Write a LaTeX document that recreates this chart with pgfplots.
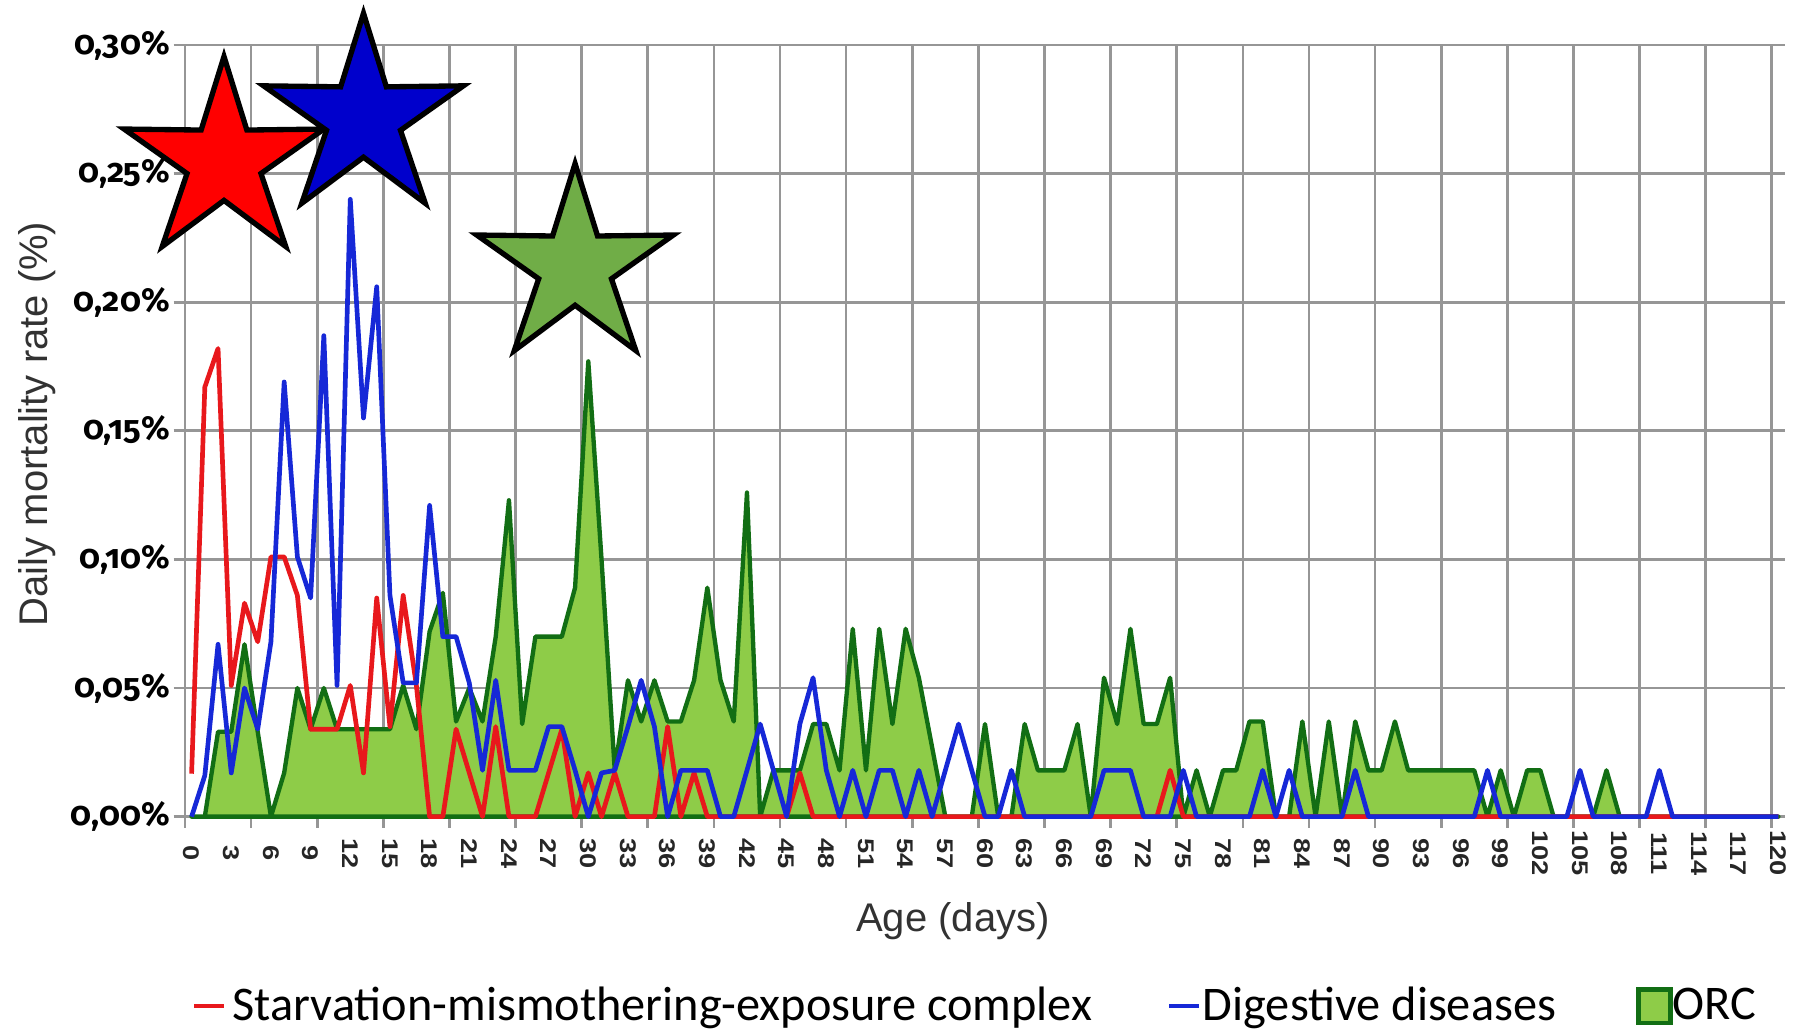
\documentclass[border=0pt]{standalone}
\usepackage{pgfplots}
\pgfplotsset{compat=1.18}
\usepackage{pgfplotstable}
\usepackage{fontspec}
\setmainfont{Liberation Sans}
\newfontfamily\tickfont[Numbers=OldStyle]{Fira Sans}
\newfontfamily\legfont{Carlito}
\newfontfamily\xtfont[FakeStretch=1.2]{Liberation Sans}
\usetikzlibrary{shapes.geometric}
\definecolor{cRed}{RGB}{232,24,28}
\definecolor{cBlue}{RGB}{22,40,215}
\definecolor{cLGreen}{RGB}{142,204,72}
\definecolor{cDGreen}{RGB}{18,110,20}
\definecolor{cGrid}{RGB}{150,150,150}
\definecolor{sRed}{RGB}{255,0,0}
\definecolor{sBlue}{RGB}{0,0,204}
\definecolor{sGreen}{RGB}{112,173,71}
\definecolor{cLab}{RGB}{50,50,50}

\pgfplotsset{
  lineleg/.style={legend image code/.code={\draw[##1] (0pt,0pt) -- (9pt,0pt);}},
  boxleg/.style={legend image code/.code={\draw[##1] (0pt,-5pt) rectangle (9.6pt,5pt);}},
}

\pgfplotstableread{
d R B G
0 0.0167 0 0
1 0.167 0.016 0
2 0.182 0.067 0.033
3 0.051 0.017 0.033
4 0.083 0.050 0.067
5 0.068 0.034 0.033
6 0.101 0.068 0
7 0.101 0.169 0.017
8 0.086 0.101 0.050
9 0.034 0.085 0.034
10 0.034 0.187 0.050
11 0.034 0.051 0.034
12 0.051 0.240 0.034
13 0.017 0.155 0.034
14 0.085 0.206 0.034
15 0.035 0.086 0.034
16 0.086 0.052 0.051
17 0.051 0.052 0.034
18 0 0.121 0.072
19 0 0.070 0.087
20 0.034 0.070 0.037
21 0.017 0.052 0.050
22 0 0.018 0.037
23 0.035 0.053 0.070
24 0 0.018 0.123
25 0 0.018 0.036
26 0 0.018 0.070
27 0.017 0.035 0.070
28 0.034 0.035 0.070
29 0 0.018 0.089
30 0.017 0 0.177
31 0 0.017 0.100
32 0.017 0.018 0.018
33 0 0.035 0.053
34 0 0.053 0.037
35 0 0.035 0.053
36 0.035 0 0.037
37 0 0.018 0.037
38 0.017 0.018 0.053
39 0 0.018 0.089
40 0 0 0.053
41 0 0 0.037
42 0 0.018 0.126
43 0 0.036 0
44 0 0.018 0.018
45 0 0 0.018
46 0.017 0.036 0.018
47 0 0.054 0.036
48 0 0.018 0.036
49 0 0 0.018
50 0 0.018 0.073
51 0 0 0.018
52 0 0.018 0.073
53 0 0.018 0.036
54 0 0 0.073
55 0 0.018 0.054
56 0 0 0.027
57 0 0.018 0
58 0 0.036 0
59 0 0.018 0
60 0 0 0.036
61 0 0 0
62 0 0.018 0
63 0 0 0.036
64 0 0 0.018
65 0 0 0.018
66 0 0 0.018
67 0 0 0.036
68 0 0 0
69 0 0.018 0.054
70 0 0.018 0.036
71 0 0.018 0.073
72 0 0 0.036
73 0 0 0.036
74 0.018 0 0.054
75 0 0.018 0
76 0 0 0.018
77 0 0 0
78 0 0 0.018
79 0 0 0.018
80 0 0 0.037
81 0 0.018 0.037
82 0 0 0
83 0 0.018 0
84 0 0 0.037
85 0 0 0
86 0 0 0.037
87 0 0 0
88 0 0.018 0.037
89 0 0 0.018
90 0 0 0.018
91 0 0 0.037
92 0 0 0.018
93 0 0 0.018
94 0 0 0.018
95 0 0 0.018
96 0 0 0.018
97 0 0 0.018
98 0 0.018 0
99 0 0 0.018
100 0 0 0
101 0 0 0.018
102 0 0 0.018
103 0 0 0
104 0 0 0
105 0 0.018 0
106 0 0 0
107 0 0 0.018
108 0 0 0
109 0 0 0
110 0 0 0
111 0 0.018 0
112 0 0 0
113 0 0 0
114 0 0 0
115 0 0 0
116 0 0 0
117 0 0 0
118 0 0 0
119 0 0 0
120 0 0 0
}\mort

\pgfplotstableread{
x y
2.95 0.2547
}\starR
\pgfplotstableread{
x y
13.5 0.2715
}\starB
\pgfplotstableread{
x y
29.5 0.2137
}\starG

\begin{document}
\begin{tikzpicture}
\useasboundingbox (-55.5pt,-64.3pt) rectangle (483pt,245pt);
\begin{axis}[
  scale only axis, width=480pt, height=231.5pt,
  xmin=0, xmax=121, ymin=0, ymax=0.30,
  clip=false,
  axis x line*=bottom, axis y line*=left,
  axis line style={cGrid, line width=0.8pt, -},
  xtick={0,5,...,120}, xticklabels={},
  extra x ticks={0.5,3.5,6.5,9.5,12.5,15.5,18.5,21.5,24.5,27.5,30.5,33.5,36.5,39.5,42.5,45.5,48.5,51.5,54.5,57.5,60.5,63.5,66.5,69.5,72.5,75.5,78.5,81.5,84.5,87.5,90.5,93.5,96.5,99.5,102.5,105.5,108.5,111.5,114.5,117.5,120.5},
  extra x tick labels={0,3,6,9,12,15,18,21,24,27,30,33,36,39,42,45,48,51,54,57,60,63,66,69,72,75,78,81,84,87,90,93,96,99,102,105,108,111,114,117,120},
  extra x tick style={grid=none, major tick length=0pt},
  xticklabel shift=11pt,
  xticklabel style={rotate=-90, anchor=center, font=\xtfont\bfseries\fontsize{6.8}{7}\selectfont, text=black!85, inner sep=0pt},
  ytick={0,0.05,0.1,0.15,0.2,0.25,0.3},
  yticklabels={{0,00\%},{0,05\%},{0,10\%},{0,15\%},{0,20\%},{0,25\%},{0,30\%}},
  yticklabel style={font=\tickfont\bfseries\fontsize{10}{12}\selectfont, text=black, inner sep=1pt},
  grid=major, major grid style={cGrid, line width=0.8pt},
  tick style={cGrid, line width=0.8pt}, tick align=outside, major tick length=3.4pt,
  xlabel={Age (days)},
  xlabel style={at={(axis description cs:0.48,-0.136)}, anchor=center, font=\fontsize{12}{14}\selectfont, text=cLab},
  ylabel={Daily mortality rate (\%)},
  ylabel style={at={(axis description cs:-0.0925,0.509)}, anchor=center, font=\fontsize{12}{14}\selectfont, text=cLab},
  legend style={at={(axis description cs:0.004,-0.246)}, anchor=west, draw=none, fill=none,
    inner sep=0pt, font=\legfont\fontsize{14.5}{16}\selectfont,
    /tikz/every even column/.append style={column sep=20.5pt}},
  legend columns=3, legend cell align=left,
]
\addplot[draw=cDGreen, line width=1.3pt, line join=round, fill=cLGreen, forget plot]
  table[x expr=\thisrow{d}+0.5, y=G]{\mort} \closedcycle;
\addplot[cRed, line width=1.4pt, line join=round, forget plot]
  table[x expr=\thisrow{d}+0.5, y=R]{\mort};
\addplot[cBlue, line width=1.4pt, line join=round, forget plot]
  table[x expr=\thisrow{d}+0.5, y=B]{\mort};

\addlegendimage{cRed, line width=1.2pt, lineleg}
\addlegendentry{Starvation-mismothering-exposure complex}
\addlegendimage{cBlue, line width=1.2pt, lineleg}
\addlegendentry{\hspace*{-1.5pt}Digestive diseases\hspace*{1.5pt}}
\addlegendimage{draw=cDGreen, fill=cLGreen, line width=1.4pt, boxleg}
\addlegendentry{\hspace*{-2pt}ORC}

\addplot[draw=none, mark=none, forget plot] table[x=x, y=y]{\starR}
  node[star, star points=5, star point ratio=2.7, minimum size=63pt, inner sep=0pt, fill=sRed, draw=black, line width=1.6pt] {};
\addplot[draw=none, mark=none, forget plot] table[x=x, y=y]{\starB}
  node[star, star points=5, star point ratio=2.7, minimum size=63pt, inner sep=0pt, fill=sBlue, draw=black, line width=1.6pt] {};
\addplot[draw=none, mark=none, forget plot] table[x=x, y=y]{\starG}
  node[star, star points=5, star point ratio=2.7, minimum size=62pt, inner sep=0pt, fill=sGreen, draw=black, line width=1.6pt] {};
\end{axis}
\end{tikzpicture}
\end{document}
